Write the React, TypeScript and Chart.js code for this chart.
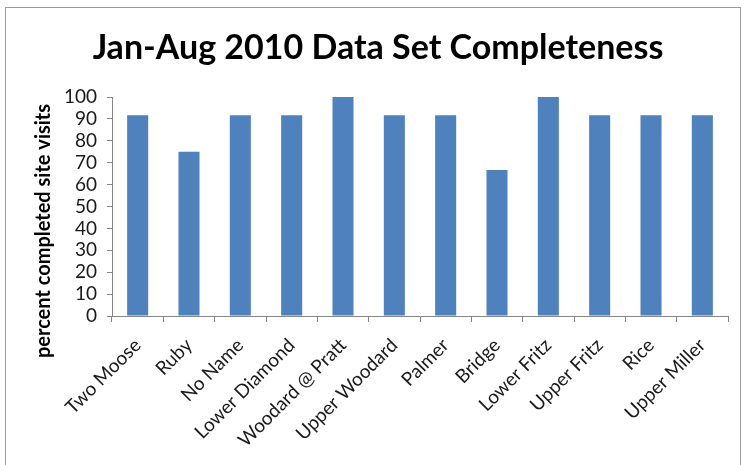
import React, { useEffect, useRef } from "react";
import { Chart, registerables } from "chart.js";

Chart.register(...registerables);

const categories = [
  "Two Moose",
  "Ruby",
  "No Name",
  "Lower Diamond",
  "Woodard @ Pratt",
  "Upper Woodard",
  "Palmer",
  "Bridge",
  "Lower Fritz",
  "Upper Fritz",
  "Rice",
  "Upper Miller",
];
const completeness = [91.7, 75, 91.7, 91.7, 100, 91.7, 91.7, 66.7, 100, 91.7, 91.7, 91.7];
const titleText = "Jan-Aug 2010 Data Set Completeness";
const yAxisTitle = "percent completed site visits";

const FONT = "Lato, 'Open Sans', sans-serif";

const framePlugin = {
  id: "frame",
  beforeDraw(chart: any) {
    const ctx = chart.ctx;
    ctx.save();
    ctx.fillStyle = "#ffffff";
    ctx.fillRect(0, 0, chart.width, chart.height);
    ctx.strokeStyle = "#9a9a9a";
    ctx.lineWidth = 1;
    ctx.strokeRect(5.5, 7.5, 735, 520);
    ctx.restore();
  },
};

const titlesPlugin = {
  id: "titles",
  afterDraw(chart: any) {
    const ctx = chart.ctx;
    ctx.save();
    ctx.font = `bold 34px ${FONT}`;
    ctx.fillStyle = "#000000";
    ctx.textAlign = "center";
    ctx.textBaseline = "alphabetic";
    ctx.fillText(titleText, 378, 59);
    ctx.translate(44, 231);
    ctx.rotate(-Math.PI / 2);
    ctx.font = `bold 20px ${FONT}`;
    ctx.textAlign = "center";
    ctx.textBaseline = "middle";
    ctx.fillText(yAxisTitle, 0, 0);
    ctx.restore();
  },
};

export default function App() {
  const ref = useRef<HTMLCanvasElement>(null);
  useEffect(() => {
    if (!ref.current) return;
    const chart = new Chart(ref.current, {
      type: "bar",
      data: {
        labels: categories,
        datasets: [
          {
            data: completeness,
            backgroundColor: "#4F81BD",
            borderWidth: 0,
            barPercentage: 0.41,
            categoryPercentage: 1,
          },
        ],
      },
      plugins: [framePlugin, titlesPlugin],
      options: {
        responsive: false,
        animation: false,
        devicePixelRatio: 1,
        layout: { padding: { left: 0, right: 24, top: 97, bottom: 0 } },
        plugins: {
          legend: { display: false },
          tooltip: { enabled: false },
          title: { display: false },
        },
        scales: {
          x: {
            afterFit(scale: any) {
              scale.height = 149;
            },
            grid: {
              display: true,
              drawOnChartArea: false,
              drawTicks: true,
              tickLength: 6,
              offset: true,
              color: "#868686",
            },
            border: { display: true, color: "#868686", width: 1 },
            ticks: {
              color: "#1a1a1a",
              font: { family: FONT, size: 19 },
              maxRotation: 45,
              minRotation: 45,
              autoSkip: false,
              padding: 12,
            },
          },
          y: {
            min: 0,
            max: 100,
            afterFit(scale: any) {
              scale.width = 112;
            },
            grid: {
              display: true,
              drawOnChartArea: false,
              drawTicks: true,
              tickLength: 5,
              color: "#868686",
            },
            border: { display: true, color: "#868686", width: 1 },
            ticks: {
              stepSize: 10,
              autoSkip: false,
              color: "#1a1a1a",
              font: { family: FONT, size: 19 },
              padding: 10,
            },
          },
        },
      },
    } as any);
    return () => chart.destroy();
  }, []);
  return (
    <div style={{ position: "absolute", left: 0, top: 0, width: 752, height: 465 }}>
      <canvas ref={ref} width={752} height={465} style={{ display: "block", width: 752, height: 465 }} />
    </div>
  );
}
